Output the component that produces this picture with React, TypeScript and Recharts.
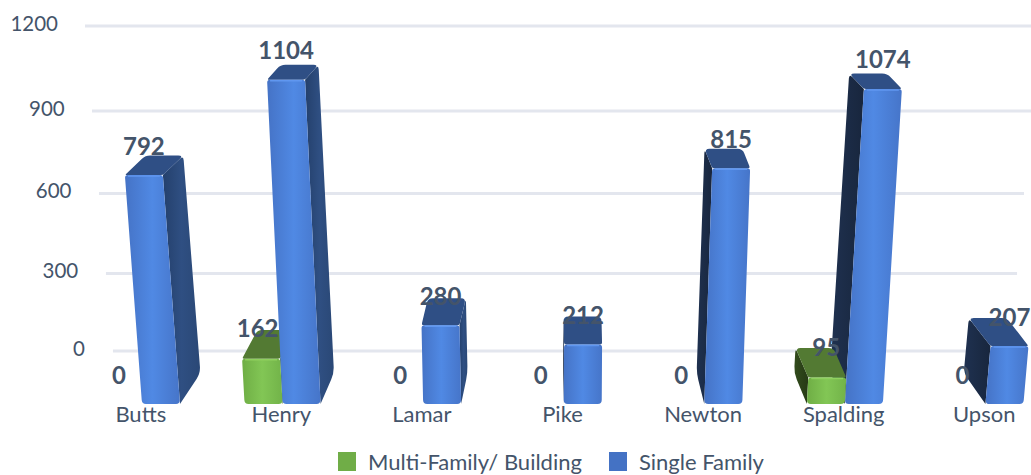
import { Bar, BarChart, CartesianGrid, LabelList, Legend, XAxis, YAxis } from "recharts";

const counties = ["Butts", "Henry", "Lamar", "Pike", "Newton", "Spalding", "Upson"];
const multiFamily = [0, 162, 0, 0, 0, 95, 0];
const singleFamily = [792, 1104, 280, 212, 815, 1074, 207];
const wallTicks = [0, 300, 600, 900, 1200];

// Spalding's green bar sits in front of its blue neighbour, Henry's behind, so green is split in two draw passes
const rows = counties.map((county, i) => ({
  county,
  multiFamily: multiFamily[i],
  singleFamily: singleFamily[i],
  multiBack: i < 3 ? multiFamily[i] : 0,
  multiFront: i < 3 ? 0 : multiFamily[i],
}));

const TEXT = "#44546a";
const FONT = "Lato, 'Open Sans', sans-serif";

// fake perspective for the 3D look
const leanAt = (cx: number) => (cx - 550) / 5200;
const depthX = (cx: number) => (570 - cx) * 0.05;
const depthY = (y: number) => -(15 + (y - 80) * 0.049);
const foreshorten = (h: number) => h * (0.955 + 0.00018 * h);
const wallSag = (y: number) => ((y - 26) * (351 - y)) / 5280;

const faces = {
  blue: { front: "url(#blueFront)", top: "#2f4f85", right: "url(#blueRight)", left: "url(#blueLeft)", rim: "#6097f0" },
  green: { front: "url(#greenFront)", top: "#537a33", right: "#466a2a", left: "url(#greenLeft)", rim: "#8fd05f" },
};

// polygon with its own corner radius on each [x, y, r] vertex
const roundedPath = (list: number[][]) => {
  const n = list.length;
  let d = "";
  list.forEach((p, i) => {
    const a = list[(i + n - 1) % n];
    const b = list[(i + 1) % n];
    const r = p[2] || 0;
    const la = Math.hypot(a[0] - p[0], a[1] - p[1]) || 1;
    const lb = Math.hypot(b[0] - p[0], b[1] - p[1]) || 1;
    const ra = Math.min(r, la / 2);
    const rb = Math.min(r, lb / 2);
    const sx = p[0] + ((a[0] - p[0]) / la) * ra;
    const sy = p[1] + ((a[1] - p[1]) / la) * ra;
    const ex = p[0] + ((b[0] - p[0]) / lb) * rb;
    const ey = p[1] + ((b[1] - p[1]) / lb) * rb;
    d += `${i === 0 ? "M" : "L"}${sx},${sy} Q${p[0]},${p[1]} ${ex},${ey} `;
  });
  return d + "Z";
};

const Bar3D = ({ x, y, width, height, tone }: any) => {
  if (!height || height <= 0) return null;
  const c = faces[tone as "blue" | "green"];
  const floor = y + height;
  const h = foreshorten(height);
  const top = floor - h;
  const cx = x + width / 2;
  const shift = leanAt(cx) * h;
  const dx = depthX(cx);
  const topDy = depthY(top);
  const floorDy = depthY(floor);
  const fl = [x, floor];
  const fr = [x + width, floor];
  const tl = [x + shift, top];
  const tr = [x + width + shift, top];
  const edgeTop = dx >= 0 ? tr : tl;
  const edgeFloor = dx >= 0 ? fr : fl;
  return (
    <g>
      <path
        d={roundedPath([
          [edgeFloor[0], edgeFloor[1], 0],
          [edgeTop[0], edgeTop[1], 0],
          [edgeTop[0] + dx, top + topDy, 5],
          [edgeFloor[0] + dx, floor + floorDy, 7],
        ])}
        fill={dx >= 0 ? c.right : c.left}
      />
      <path
        d={roundedPath([
          [tl[0], tl[1], 2],
          [tr[0], tr[1], 2],
          [tr[0] + dx, top + topDy, 5],
          [tl[0] + dx, top + topDy, 5],
        ])}
        fill={c.top}
      />
      <path
        d={roundedPath([
          [fl[0], fl[1], 4],
          [fr[0], fr[1], 4],
          [tr[0], tr[1], 3],
          [tl[0], tl[1], 3],
        ])}
        fill={c.front}
      />
      <line x1={tl[0] + 3} y1={top + 1} x2={tr[0] - 3} y2={top + 1} stroke={c.rim} strokeWidth={1.5} />
    </g>
  );
};

const BlueBar = (props: any) => <Bar3D {...props} tone="blue" />;
const GreenBar = (props: any) => <Bar3D {...props} tone="green" />;

const BarValue = ({ viewBox, value }: any) => {
  const { x, y, width, height } = viewBox;
  const cx = x + width / 2;
  const h = foreshorten(height || 0);
  return (
    <text
      x={cx + leanAt(cx) * h}
      y={y + (height || 0) - h - 30}
      textAnchor="middle"
      dominantBaseline="central"
      fill={TEXT}
      fontFamily={FONT}
      fontSize={24}
      fontWeight={700}
    >
      {value}
    </text>
  );
};

// green value sits above the top of its stack, zeros keep to the left of the blue bar
const GreenValue = ({ viewBox, value }: any) => {
  const { x, y, width } = viewBox;
  const cx = x + width / 2;
  return (
    <text
      x={value === 0 ? cx - 4 : cx + (cx - 800) * 0.011}
      y={y - 29.5}
      textAnchor="middle"
      dominantBaseline="central"
      fill={TEXT}
      fontFamily={FONT}
      fontSize={24}
      fontWeight={700}
    >
      {value}
    </text>
  );
};

const WallTick = ({ y, payload }: any) => {
  const inset = (y - 26) * 0.083;
  return (
    <text
      x={58 + inset}
      y={y + wallSag(y) - 3}
      textAnchor="end"
      dominantBaseline="central"
      fill={TEXT}
      fontFamily={FONT}
      fontSize={20.5}
    >
      {payload.value}
    </text>
  );
};

const CountyTick = ({ x, y, payload }: any) => (
  <text
    x={x - 1.5}
    y={y + 3}
    textAnchor="middle"
    dominantBaseline="central"
    fill={TEXT}
    fontFamily={FONT}
    fontSize={22}
  >
    {payload.value}
  </text>
);

const GridLine = ({ x1, x2, y1 }: any) => {
  const inset = (y1 - 26) * 0.086;
  const y = y1 + wallSag(y1);
  return (
    <line
      x1={Math.max(x1, 85 + inset)}
      x2={Math.min(x2, 1038 - inset)}
      y1={y}
      y2={y}
      stroke="#e3e6ee"
      strokeWidth={3}
    />
  );
};

const LegendRow = ({ payload }: any) => (
  <div style={{ display: "flex", paddingTop: 18, paddingLeft: 338, fontFamily: FONT, fontSize: 22, color: TEXT, lineHeight: "19px" }}>
    {(payload || [])
      .filter((item: any) => item.type !== "none" && item.dataKey !== "multiBack")
      .map((item: any) => (
        <div key={item.value} style={{ display: "flex", alignItems: "center", marginRight: 27 }}>
          <span style={{ width: 18, height: 19, background: item.color, marginRight: 12 }} />
          <span>{item.value}</span>
        </div>
      ))}
  </div>
);

export default function App() {
  return (
    <div style={{ position: "fixed", left: 0, top: 0, width: 1031, height: 475, overflow: "hidden", background: "#fff" }}>
      <BarChart
        width={1060}
        height={475}
        data={rows}
        barSize={38}
        barGap={0}
        margin={{ top: 26, right: 4, bottom: 0, left: 0 }}
      >
        <defs>
          <linearGradient id="blueFront" x1="0" y1="0" x2="1" y2="0">
            <stop offset="0" stopColor="#4573c6" />
            <stop offset="0.5" stopColor="#5089e4" />
            <stop offset="1" stopColor="#4675c9" />
          </linearGradient>
          <linearGradient id="blueRight" x1="0" y1="0" x2="1" y2="0">
            <stop offset="0" stopColor="#24406c" />
            <stop offset="0.5" stopColor="#2f4f82" />
            <stop offset="1" stopColor="#2a4876" />
          </linearGradient>
          <linearGradient id="blueLeft" x1="0" y1="0" x2="1" y2="0">
            <stop offset="0" stopColor="#1f3150" />
            <stop offset="1" stopColor="#18263d" />
          </linearGradient>
          <linearGradient id="greenFront" x1="0" y1="0" x2="1" y2="0">
            <stop offset="0" stopColor="#6fae45" />
            <stop offset="0.5" stopColor="#82c655" />
            <stop offset="1" stopColor="#72b349" />
          </linearGradient>
          <linearGradient id="greenLeft" x1="0" y1="0" x2="1" y2="0">
            <stop offset="0" stopColor="#324b1c" />
            <stop offset="1" stopColor="#263a15" />
          </linearGradient>
        </defs>
        <CartesianGrid vertical={false} yAxisId="wall" syncWithTicks horizontal={GridLine} />
        <XAxis
          dataKey="county"
          axisLine={false}
          tickLine={false}
          height={30}
          tickMargin={0}
          tick={CountyTick}
          interval={0}
        />
        <YAxis
          yAxisId="wall"
          domain={[-196, 1200]}
          allowDataOverflow
          ticks={wallTicks}
          width={72}
          axisLine={false}
          tickLine={false}
          tick={WallTick}
          interval={0}
        />
        <YAxis yAxisId="front" domain={[0, 1303]} allowDataOverflow hide />
        <Legend verticalAlign="bottom" wrapperStyle={{ left: 0, width: 1031, height: 41 }} content={LegendRow} />
        <Bar
          dataKey="multiBack"
          yAxisId="front"
          stackId="multi"
          legendType="none"
          fill="#70ad47"
          shape={GreenBar}
          isAnimationActive={false}
        />
        <Bar
          dataKey="singleFamily"
          name="Single Family"
          yAxisId="front"
          fill="#4472c4"
          shape={BlueBar}
          isAnimationActive={false}
        >
          <LabelList dataKey="singleFamily" content={BarValue} />
        </Bar>
        <Bar
          dataKey="multiFront"
          name="Multi-Family/ Building"
          yAxisId="front"
          stackId="multi"
          fill="#70ad47"
          shape={GreenBar}
          isAnimationActive={false}
        >
          <LabelList dataKey="multiFamily" content={GreenValue} />
        </Bar>
      </BarChart>
    </div>
  );
}
